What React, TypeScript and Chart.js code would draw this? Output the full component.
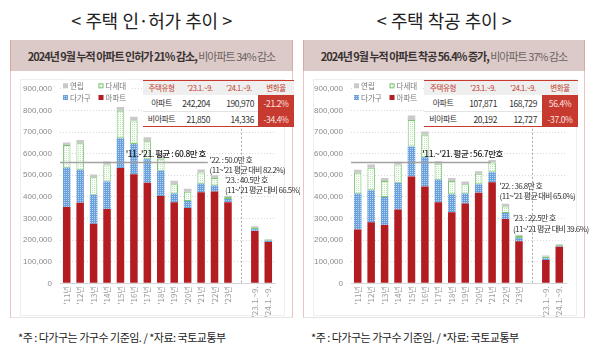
import React, { useEffect, useRef } from 'react';
import { Chart, registerables } from 'chart.js';
Chart.register(...registerables);

const FONT = "'Noto Sans CJK KR', 'Noto Sans', sans-serif";
const NUMFONT = "'Liberation Sans', Arial, sans-serif";

// ---------- data ----------
const categories = ["'11년", "'12년", "'13년", "'14년", "'15년", "'16년", "'17년", "'18년", "'19년", "'20년", "'21년", "'22년", "'23년", "", "'23.1.~9.", "'24.1.~9."];

// 주택 인·허가
const permitApt = [353000, 373000, 275000, 344000, 533000, 505000, 465000, 404000, 375000, 348000, 421000, 425000, 375000, null, 242204, 190970];
const permitDagagu = [182000, 152000, 135000, 127000, 138000, 140000, 109000, 117000, 40000, 33000, 40000, 28000, 15000, null, 8000, 5500];
const permitDasedae = [105000, 123000, 81000, 79000, 128000, 108000, 83000, 55000, 43000, 43000, 52000, 34000, 9000, null, 9000, 5800];
const permitYeonrip = [12000, 15000, 13000, 14000, 17000, 18000, 19000, 20000, 17000, 14000, 14000, 13000, 6000, null, 4850, 3036];
const permitAvgLine = 563000;

// 주택 착공
const startApt = [249000, 282000, 270000, 341000, 494000, 448000, 375000, 329000, 369000, 419000, 468000, 297000, 194000, null, 107871, 168729];
const startDagagu = [167000, 148000, 129000, 124000, 139000, 135000, 104000, 83000, 46000, 39000, 46000, 28000, 16000, null, 8500, 5500];
const startDasedae = [96000, 105000, 74000, 85000, 123000, 104000, 74000, 61000, 43000, 49000, 45000, 30000, 9000, null, 8000, 4800];
const startYeonrip = [13000, 15000, 14000, 12000, 20000, 15000, 12000, 14000, 13000, 12000, 12000, 13000, 6000, null, 3692, 2427];
const startAvgLine = 562000;

// tables
const tableHeader = ['주택유형', "'23.1.~9.", "'24.1.~9.", '변화율'];
const tableTypes = ['아파트', '비아파트'];
const permit2023 = ['242,204', '21,850'];
const permit2024 = ['190,970', '14,336'];
const permitChange = ['-21.2%', '-34.4%'];
const start2023 = ['107,871', '20,192'];
const start2024 = ['168,729', '12,727'];
const startChange = ['56.4%', '-37.0%'];

const legendLabels = ['연립', '다세대', '다가구', '아파트'];

// ---------- colours ----------
const RED = '#b31c21';
const GRAY = '#c9c9c9';
const GREEN_BORDER = '#7cc672';

function makePattern(bg: string, fg: string, pts: number[][], size: number) {
  const c = document.createElement('canvas');
  c.width = size; c.height = size;
  const g = c.getContext('2d')!;
  g.fillStyle = bg; g.fillRect(0, 0, size, size);
  g.fillStyle = fg;
  pts.forEach(([a, b]) => g.fillRect(a, b, 1, 1));
  return g.createPattern(c, 'repeat')!;
}

type Note = { index: number; dx: number; value: number; text: string };
type Cfg = {
  avgValue: number; avgLabel: string; avgEndIndex: number; avgEndDx: number; avgLabelDx: number;
  dividerIndex: number; dividerTop: number; notes: Note[];
};

function makeOverlay(cfg: Cfg, fills: any[]) {
  return {
    id: 'overlay',
    afterDatasetsDraw(chart: any) {
      const { ctx, chartArea, scales } = chart;
      const x = scales.x, y = scales.y;
      ctx.save();
      const step = x.getPixelForValue(1) - x.getPixelForValue(0);
      // divider
      const dxp = Math.round(x.getPixelForValue(cfg.dividerIndex)) + 0.5;
      ctx.strokeStyle = '#a8a8a8'; ctx.lineWidth = 1; ctx.setLineDash([2, 2]);
      ctx.beginPath(); ctx.moveTo(dxp, y.getPixelForValue(cfg.dividerTop)); ctx.lineTo(dxp, chartArea.bottom); ctx.stroke();
      ctx.setLineDash([]);
      // average line
      const ay = Math.round(y.getPixelForValue(cfg.avgValue)) + 0.5;
      const endX = x.getPixelForValue(cfg.avgEndIndex) + step / 2 + cfg.avgEndDx;
      ctx.strokeStyle = '#a3a3a3'; ctx.lineWidth = 1.5;
      ctx.beginPath(); ctx.moveTo(chartArea.left, ay); ctx.lineTo(endX, ay); ctx.stroke();
      (ctx as any).letterSpacing = '-0.5px';
      ctx.font = `500 8.5px ${FONT}`; ctx.fillStyle = '#222';
      ctx.textAlign = 'right'; ctx.textBaseline = 'middle';
      ctx.fillText(cfg.avgLabel, endX + cfg.avgLabelDx, ay - 9);
      // notes
      (ctx as any).letterSpacing = '-0.6px';
      ctx.textAlign = 'left';
      ctx.font = `8px ${FONT}`; ctx.fillStyle = '#333';
      cfg.notes.forEach((n) => {
        ctx.fillText(n.text, x.getPixelForValue(n.index) + n.dx, y.getPixelForValue(n.value));
      });
      (ctx as any).letterSpacing = '0px';
      ctx.restore();
    },
    afterDraw(chart: any) {
      const { ctx, chartArea } = chart;
      ctx.save();
      const L = chartArea.left, T = chartArea.top;
      ctx.fillStyle = '#fff';
      ctx.fillRect(L + 1, T - 9, 70, 22);
      const items = [
        { label: legendLabels[0], fill: fills[3], stroke: null, cx: 3, cy: -3 },
        { label: legendLabels[1], fill: fills[2], stroke: GREEN_BORDER, cx: 38.5, cy: -3 },
        { label: legendLabels[2], fill: fills[1], stroke: null, cx: 3, cy: 8.7 },
        { label: legendLabels[3], fill: fills[0], stroke: null, cx: 38.5, cy: 8.7 },
      ];
      ctx.font = `7.5px ${FONT}`; ctx.textBaseline = 'middle'; ctx.textAlign = 'left';
      items.forEach((it) => {
        const sx = L + it.cx, sy = T + it.cy;
        ctx.fillStyle = it.fill;
        ctx.fillRect(sx, sy - 2.5, 5, 5);
        if (it.stroke) { ctx.strokeStyle = it.stroke; ctx.lineWidth = 1; ctx.strokeRect(sx + 0.5, sy - 2, 4, 4); }
        ctx.fillStyle = '#777';
        ctx.fillText(it.label, sx + 7, sy + 0.5);
      });
      ctx.restore();
    },
  };
}

function BarChart(props: { w: number; h: number; padRight: number; yWidth: number; apt: any[]; dag: any[]; das: any[]; yr: any[]; cfg: Cfg }) {
  const ref = useRef<HTMLCanvasElement>(null);
  useEffect(() => {
    const blue = makePattern('#6aa0dc', '#b9d4f1', [[0, 0]], 2);
    const green = makePattern('#fbfefb', '#bfe5b9', [[0, 0]], 2);
    const fills = [RED, blue, green, GRAY];
    const chart = new Chart(ref.current!, {
      type: 'bar',
      data: {
        labels: categories,
        datasets: [
          { label: '아파트', data: props.apt, backgroundColor: RED, borderWidth: 0 },
          { label: '다가구', data: props.dag, backgroundColor: blue as any, borderWidth: 0 },
          { label: '다세대', data: props.das, backgroundColor: green as any, borderColor: GREEN_BORDER, borderWidth: 1, borderSkipped: false },
          { label: '연립', data: props.yr, backgroundColor: GRAY, borderWidth: 0 },
        ],
      },
      options: {
        animation: false,
        responsive: false,
        maintainAspectRatio: false,
        events: [],
        datasets: { bar: { barPercentage: 0.56, categoryPercentage: 1 } },
        layout: { padding: { top: 12, right: props.padRight, left: 0, bottom: 0 } },
        plugins: { legend: { display: false }, tooltip: { enabled: false } },
        scales: {
          x: {
            stacked: true,
            grid: { display: false, drawTicks: false },
            border: { display: true, color: '#d6d6d6' },
            ticks: { autoSkip: false, maxRotation: 90, minRotation: 90, padding: 3, color: '#9a9a9a', font: { size: 8, family: FONT } },
            afterFit: (s: any) => { s.height = props.h - 12 - 195.3; },
          },
          y: {
            stacked: true, min: 0, max: 900000,
            grid: { color: '#d9d9d9', drawTicks: false },
            border: { display: false, dash: [1, 2] },
            ticks: { stepSize: 100000, padding: 8, color: '#8a8a8a', font: { size: 8, family: NUMFONT }, callback: (v: any) => Number(v).toLocaleString('en-US') },
            afterFit: (s: any) => { s.width = props.yWidth; },
          },
        },
      } as any,
      plugins: [makeOverlay(props.cfg, fills)],
    });
    return () => chart.destroy();
  }, []);
  return <canvas ref={ref} width={props.w} height={props.h} style={{ width: props.w, height: props.h, display: 'block' }} />;
}

function Table(props: { left: number; cols: number[]; pads: number[]; c2023: string[]; c2024: string[]; change: string[] }) {
  const { left, cols, pads } = props;
  const total = cols.reduce((a, b) => a + b, 0);
  const lefts = cols.map((_, i) => cols.slice(0, i).reduce((a, b) => a + b, 0));
  const cell = (i: number, text: string, top: number, h: number, style: any) => (
    <div key={i + text + top} style={{ position: 'absolute', left: lefts[i], top, width: cols[i], height: h, lineHeight: h + 'px', boxSizing: 'border-box', whiteSpace: 'nowrap', ...style }}>{text}</div>
  );
  return (
    <div style={{ position: 'absolute', left, top: 80, width: total, height: 47, background: '#fff', zIndex: 2, fontFamily: FONT }}>
      <div style={{ position: 'absolute', left: 0, top: 0, width: total, height: 15, background: '#efefef', borderTop: '1.5px solid #c9392e', boxSizing: 'border-box' }} />
      {tableHeader.map((t, i) => cell(i, t, 1, 14, { textAlign: 'center', color: '#c0392b', fontSize: 7.5, letterSpacing: '-0.4px' }))}
      <div style={{ position: 'absolute', left: 0, top: 31, width: total, height: 1, background: '#e3e3e3' }} />
      <div style={{ position: 'absolute', left: 0, top: 46, width: total, height: 1.2, background: '#c9392e' }} />
      {tableTypes.map((t, r) => {
        const top = 15 + r * 16;
        return [
          cell(0, t, top, 16, { textAlign: 'center', color: '#333', fontSize: 8, letterSpacing: '-0.5px' }),
          cell(1, props.c2023[r], top, 16, { textAlign: 'right', paddingRight: pads[0], color: '#333', fontSize: 8.5, letterSpacing: '-0.4px' }),
          cell(2, props.c2024[r], top, 16, { textAlign: 'right', paddingRight: pads[1], color: '#333', fontSize: 8.5, letterSpacing: '-0.4px' }),
          cell(3, props.change[r], top, 16, { textAlign: 'center', color: '#fbe4e1', background: '#c73a2f', fontSize: 8.5, letterSpacing: '-0.4px' }),
        ];
      })}
    </div>
  );
}

function Panel(props: { boxLeft: number; boxWidth: number; title: string; bold: string; light: string; canvasLeft: number; canvasWidth: number; padRight: number; yWidth: number; data: any; cfg: Cfg; table: any; footLeft: number }) {
  const { boxLeft, boxWidth } = props;
  return (
    <>
      <div style={{ position: 'absolute', left: boxLeft - 8, top: 7, width: boxWidth + 16, height: 26, lineHeight: '26px', textAlign: 'center', fontSize: 18, color: '#222', letterSpacing: '-0.4px', wordSpacing: '1px', whiteSpace: 'pre' }}>{props.title}</div>
      <div style={{ position: 'absolute', left: boxLeft, top: 40, width: boxWidth, height: 278, border: '1px solid #e9c6c1', borderBottomColor: '#e4e4e4', boxSizing: 'border-box' }} />
      <div style={{ position: 'absolute', left: boxLeft, top: 40, width: boxWidth, height: 31, background: '#dccac8', borderLeft: '1px solid #d9a8a1', borderRight: '1px solid #d9a8a1', boxSizing: 'border-box', textAlign: 'center', lineHeight: '32px', fontSize: 11, letterSpacing: '-1px', whiteSpace: 'nowrap' }}>
        <span style={{ fontWeight: 700, color: '#3a3333' }}>{props.bold}</span>
        <span style={{ color: '#6b6262' }}>{props.light}</span>
      </div>
      <div style={{ position: 'absolute', left: boxLeft + 10, top: 79, width: boxWidth - 18, height: 237, border: '1px solid #eeeeee', boxSizing: 'border-box' }} />
      <div style={{ position: 'absolute', left: props.canvasLeft, top: 76, zIndex: 1 }}>
        <BarChart w={props.canvasWidth} h={242} padRight={props.padRight} yWidth={props.yWidth} apt={props.data.apt} dag={props.data.dag} das={props.data.das} yr={props.data.yr} cfg={props.cfg} />
      </div>
      {props.table}
      <div style={{ position: 'absolute', left: props.footLeft, top: 327, height: 20, lineHeight: '20px', fontSize: 11, color: '#222', letterSpacing: '-0.5px', whiteSpace: 'nowrap' }}>*주 : 다가구는 가구수 기준임. / *자료: 국토교통부</div>
    </>
  );
}

export default function App() {
  const permitCfg: Cfg = {
    avgValue: permitAvgLine, avgLabel: "'11.-'21. 평균 : 60.8만 호", avgEndIndex: 10, avgEndDx: 0, avgLabelDx: -2,
    dividerIndex: 13, dividerTop: 715000,
    notes: [
      { index: 11, dx: -5, value: 571000, text: "'22. : 50.0만 호" },
      { index: 11, dx: -5, value: 524000, text: "(11~'21 평균 대비 82.2%)" },
      { index: 12, dx: -3, value: 476000, text: "'23. : 40.5만 호" },
      { index: 12, dx: -3, value: 430000, text: "(11~'21 평균 대비 66.5%)" },
    ],
  };
  const startCfg: Cfg = {
    avgValue: startAvgLine, avgLabel: "'11.~'21. 평균 : 56.7만호", avgEndIndex: 10, avgEndDx: -8, avgLabelDx: 12,
    dividerIndex: 13, dividerTop: 715000,
    notes: [
      { index: 11, dx: -6, value: 451000, text: "'22. : 36.8만 호" },
      { index: 11, dx: -6, value: 402000, text: "(11~'21 평균 대비 65.0%)" },
      { index: 12, dx: -6, value: 301000, text: "'23. : 22.5만 호" },
      { index: 12, dx: -6, value: 253000, text: "(11~'21 평균 대비 39.6%)" },
    ],
  };
  return (
    <div style={{ position: 'absolute', left: 0, top: 0, width: 600, height: 357, background: '#fff', overflow: 'hidden', fontFamily: FONT }}>
      <Panel boxLeft={10} boxWidth={283} title="< 주택 인·허가 추이 >" bold="2024년 9월 누적 아파트 인허가 21% 감소," light=" 비아파트 34% 감소"
        canvasLeft={8} canvasWidth={292} padRight={25} yWidth={52}
        data={{ apt: permitApt, dag: permitDagagu, das: permitDasedae, yr: permitYeonrip }} cfg={permitCfg}
        table={<Table left={143} cols={[37, 40, 38, 36]} pads={[10, 4]} c2023={permit2023} c2024={permit2024} change={permitChange} />}
        footLeft={18} />
      <Panel boxLeft={303} boxWidth={282} title="< 주택 착공 추이 >" bold="2024년 9월 누적 아파트 착공 56.4% 증가," light=" 비아파트 37% 감소"
        canvasLeft={300} canvasWidth={300} padRight={34} yWidth={51}
        data={{ apt: startApt, dag: startDagagu, das: startDasedae, yr: startYeonrip }} cfg={startCfg}
        table={<Table left={424} cols={[38, 42, 38, 36]} pads={[7, 5]} c2023={start2023} c2024={start2024} change={startChange} />}
        footLeft={311} />
    </div>
  );
}
